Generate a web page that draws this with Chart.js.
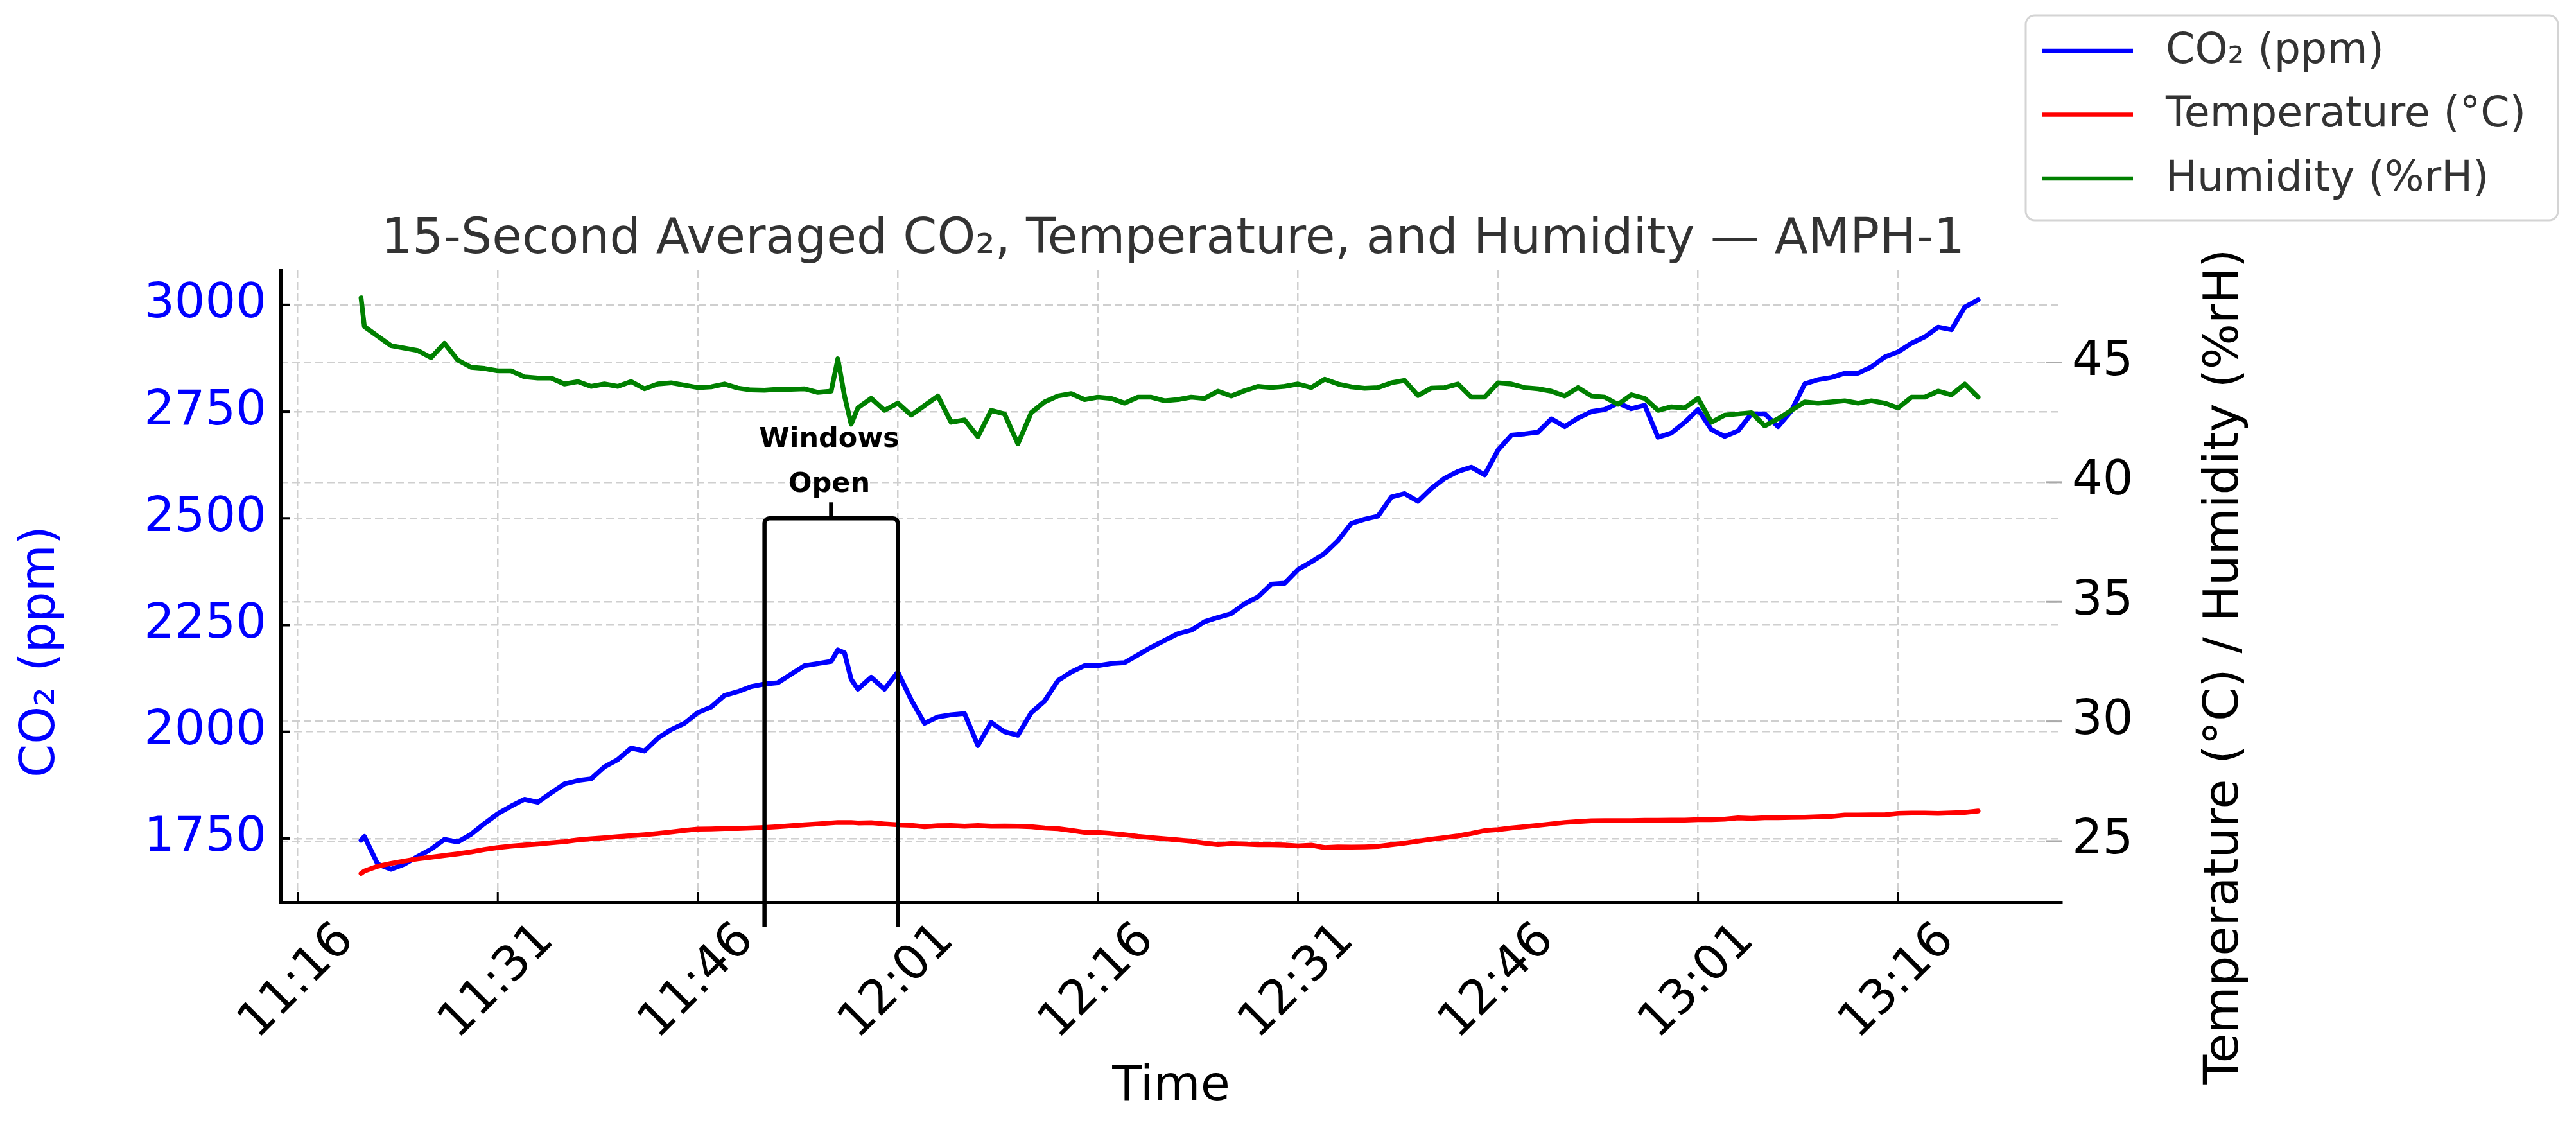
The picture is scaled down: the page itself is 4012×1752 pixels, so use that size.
<!DOCTYPE html>
<html>
<head>
<meta charset="utf-8">
<script src="https://cdn.jsdelivr.net/npm/chart.js@4.4.1/dist/chart.umd.min.js"></script>
<style>
  html, body { margin: 0; padding: 0; background: #fff; }
  canvas { display: block; }
</style>
</head>
<body>
<canvas id="chart" width="4012" height="1752"></canvas>
<script>
// ---------------------------------------------------------------
// 15-second averaged CO2 / temperature / humidity for AMPH-1.
// Values, roughly one per minute
// (with a couple of extra points around the window spike).
// ---------------------------------------------------------------

const FONT = "'DejaVu Sans', sans-serif";

const times = [
  '11:20:45',
  '11:21', '11:22', '11:23', '11:24', '11:25', '11:26', '11:27', '11:28', '11:29', '11:30',
  '11:31', '11:32', '11:33', '11:34', '11:35', '11:36', '11:37', '11:38', '11:39', '11:40',
  '11:41', '11:42', '11:43', '11:44', '11:45', '11:46', '11:47', '11:48', '11:49', '11:50',
  '11:51', '11:52', '11:53', '11:54', '11:55', '11:56', '11:56:30', '11:57', '11:57:30',
  '11:58', '11:59', '12:00',
  '12:01', '12:02', '12:03', '12:04', '12:05', '12:06', '12:07', '12:08', '12:09', '12:10',
  '12:11', '12:12', '12:13', '12:14', '12:15', '12:16', '12:17', '12:18', '12:19', '12:20',
  '12:21', '12:22', '12:23', '12:24', '12:25', '12:26', '12:27', '12:28', '12:29', '12:30',
  '12:31', '12:32', '12:33', '12:34', '12:35', '12:36', '12:37', '12:38', '12:39', '12:40',
  '12:41', '12:42', '12:43', '12:44', '12:45', '12:46', '12:47', '12:48', '12:49', '12:50',
  '12:51', '12:52', '12:53', '12:54', '12:55', '12:56', '12:57', '12:58', '12:59', '13:00',
  '13:01', '13:02', '13:03', '13:04', '13:05', '13:06', '13:07', '13:08', '13:09', '13:10',
  '13:11', '13:12', '13:13', '13:14', '13:15', '13:16', '13:17', '13:18', '13:19', '13:20',
  '13:21', '13:22'
];

const co2 = [
  1746,
  1755, 1690, 1678, 1690, 1708, 1725, 1748, 1742, 1760, 1785,
  1808, 1826, 1842, 1835, 1857, 1878, 1886, 1890, 1918, 1935,
  1962, 1955, 1985, 2005, 2020, 2045, 2058, 2085, 2094, 2106,
  2112, 2115, 2135, 2155, 2160, 2165, 2192, 2185, 2123,
  2100, 2128, 2100,
  2140, 2075, 2020, 2035, 2040, 2043, 1968, 2022, 2000, 1992,
  2045, 2072, 2120, 2140, 2155, 2155, 2160, 2162, 2180, 2198,
  2214, 2230, 2238, 2258, 2268, 2277, 2300, 2316, 2346, 2348,
  2380, 2398, 2418, 2448, 2488, 2498, 2505, 2550, 2558, 2540,
  2570, 2594, 2610, 2620, 2602, 2660, 2695, 2698, 2702, 2733,
  2715, 2735, 2750, 2755, 2770, 2757, 2765, 2690, 2700, 2725,
  2755, 2708, 2692, 2705, 2745, 2745, 2715, 2752, 2815, 2825,
  2830, 2840, 2840, 2855, 2878, 2890, 2910, 2925, 2948, 2942,
  2995, 3012
];

const temperature = [
  23.65,
  23.75, 23.95, 24.07, 24.17, 24.26, 24.33, 24.40, 24.47, 24.55, 24.65,
  24.73, 24.79, 24.84, 24.88, 24.93, 24.98, 25.05, 25.10, 25.14, 25.19,
  25.23, 25.27, 25.32, 25.38, 25.45, 25.50, 25.51, 25.53, 25.53, 25.55,
  25.57, 25.60, 25.64, 25.68, 25.72, 25.76, 25.78, 25.78, 25.78,
  25.76, 25.77, 25.72,
  25.68, 25.66, 25.60, 25.64, 25.65, 25.62, 25.65, 25.62, 25.63, 25.62,
  25.60, 25.55, 25.52, 25.45, 25.37, 25.36, 25.32, 25.27, 25.20, 25.15,
  25.10, 25.05, 25.00, 24.92, 24.86, 24.90, 24.88, 24.85, 24.85, 24.84,
  24.80, 24.83, 24.73, 24.76, 24.75, 24.76, 24.78, 24.85, 24.92, 25.00,
  25.08, 25.15, 25.22, 25.32, 25.44, 25.48, 25.55, 25.60, 25.66, 25.72,
  25.78, 25.82, 25.85, 25.86, 25.86, 25.86, 25.87, 25.87, 25.88, 25.88,
  25.90, 25.90, 25.92, 25.97, 25.95, 25.98, 25.98, 25.99, 26.00, 26.02,
  26.04, 26.09, 26.09, 26.10, 26.10, 26.16, 26.17, 26.17, 26.16, 26.18,
  26.20, 26.26
];

const humidity = [
  47.70,
  46.50, 46.10, 45.70, 45.60, 45.50, 45.20, 45.80, 45.10, 44.80, 44.75,
  44.65, 44.65, 44.40, 44.35, 44.35, 44.10, 44.20, 44.00, 44.10, 44.00,
  44.20, 43.90, 44.10, 44.15, 44.05, 43.95, 43.98, 44.10, 43.93, 43.85,
  43.84, 43.88, 43.88, 43.90, 43.75, 43.80, 45.15, 43.60, 42.42,
  43.10, 43.50, 43.00,
  43.30, 42.80, 43.20, 43.60, 42.50, 42.60, 41.90, 43.00, 42.85, 41.60,
  42.90, 43.35, 43.60, 43.70, 43.45, 43.55, 43.50, 43.30, 43.55, 43.55,
  43.40, 43.45, 43.55, 43.50, 43.80, 43.60, 43.82, 44.00, 43.95, 44.00,
  44.10, 43.95, 44.30, 44.10, 43.98, 43.92, 43.95, 44.15, 44.25, 43.62,
  43.93, 43.95, 44.10, 43.55, 43.55, 44.15, 44.10, 43.95, 43.90, 43.80,
  43.60, 43.95, 43.60, 43.55, 43.25, 43.65, 43.50, 43.00, 43.15, 43.10,
  43.50, 42.50, 42.80, 42.85, 42.90, 42.35, 42.65, 43.00, 43.35, 43.30,
  43.35, 43.40, 43.30, 43.40, 43.30, 43.10, 43.55, 43.55, 43.80, 43.65,
  44.10, 43.55
];

const xTickLabels = ['11:16', '11:31', '11:46', '12:01', '12:16', '12:31', '12:46', '13:01', '13:16'];
const co2Ticks = [1750, 2000, 2250, 2500, 2750, 3000];
const rightTicks = [25, 30, 35, 40, 45];

const windowOpen = ['11:51', '12:01'];   // bracket span
const bracketLevel = 2500;               // ppm, top of the bracket

const seriesNames = ['CO\u2082 (ppm)', 'Temperature (\u00B0C)', 'Humidity (%rH)'];
const seriesColors = ['#0000ff', '#ff0000', '#008000'];
const titleText = '15-Second Averaged CO\u2082, Temperature, and Humidity \u2014 AMPH-1';

// ---- helpers ----
function toMin(s) {
  const [h, m, sec] = s.split(':').map(Number);
  return h * 60 + m + (sec || 0) / 60;
}
const points = vals => times.map((t, i) => ({ x: toMin(t), y: vals[i] }));
const fixedTicks = vals => scale => { scale.ticks = vals.map(v => ({ value: v })); };

// ---- extra drawing: inward ticks, title, axis titles, legend, bracket ----
const decor = {
  id: 'decor',
  afterDraw(chart) {
    const { ctx, chartArea: a, scales: { x, y, y1 } } = chart;
    const seg = (x1, y1_, x2, y2) => { ctx.beginPath(); ctx.moveTo(x1, y1_); ctx.lineTo(x2, y2); ctx.stroke(); };
    ctx.save();

    ctx.strokeStyle = '#000';
    ctx.lineWidth = 3;
    x.ticks.forEach(t => { const p = x.getPixelForValue(t.value); seg(p, a.bottom, p, a.bottom - 16); });
    ctx.lineWidth = 4;
    y.ticks.forEach(t => { const p = y.getPixelForValue(t.value); seg(a.left, p, a.left + 14, p); });
    ctx.strokeStyle = '#aaaaaa';
    ctx.lineWidth = 3;
    y1.ticks.forEach(t => { const p = y1.getPixelForValue(t.value); seg(a.right - 25, p, a.right, p); });

    // title
    ctx.fillStyle = '#333';
    ctx.font = `76px ${FONT}`;
    ctx.textAlign = 'center';
    ctx.textBaseline = 'alphabetic';
    ctx.fillText(titleText, (a.left + a.right) / 2 + 3, a.top - 27);

    // x title
    ctx.fillStyle = '#000';
    ctx.font = `75px ${FONT}`;
    ctx.fillText('Time', (a.left + a.right) / 2, a.bottom + 308);

    // y titles
    ctx.textBaseline = 'middle';
    ctx.save();
    ctx.translate(a.left - 372, 1015);
    ctx.rotate(-Math.PI / 2);
    ctx.fillStyle = '#0000ff';
    ctx.fillText(seriesNames[0], 0, 0);
    ctx.restore();
    ctx.save();
    ctx.translate(a.right + 255, 1038);
    ctx.rotate(-Math.PI / 2);
    ctx.fillStyle = '#000';
    ctx.fillText('Temperature (\u00B0C) / Humidity (%rH)', 0, 0);
    ctx.restore();

    // legend
    ctx.beginPath();
    ctx.roundRect(3155, 24, 829, 319, 14);
    ctx.fillStyle = 'rgba(255,255,255,0.85)';
    ctx.fill();
    ctx.strokeStyle = '#d4d4d4';
    ctx.lineWidth = 3;
    ctx.stroke();
    ctx.font = `65px ${FONT}`;
    ctx.textAlign = 'left';
    seriesNames.forEach((name, i) => {
      const ly = 79 + i * 99.5;
      ctx.strokeStyle = seriesColors[i];
      ctx.lineWidth = 6.5;
      seg(3180, ly, 3322, ly);
      ctx.fillStyle = '#333';
      ctx.fillText(name, 3373, ly + 2);
    });

    // "Windows Open" bracket
    const xl = x.getPixelForValue(toMin(windowOpen[0]));
    const xr = x.getPixelForValue(toMin(windowOpen[1]));
    const yt = y.getPixelForValue(bracketLevel);
    const yb = a.bottom + 38;
    const xm = (xl + xr) / 2;
    ctx.strokeStyle = '#000';
    ctx.lineWidth = 6.5;
    ctx.lineJoin = 'round';
    ctx.beginPath();
    ctx.moveTo(xl, yb);
    ctx.arcTo(xl, yt, xr, yt, 8);
    ctx.arcTo(xr, yt, xr, yb, 8);
    ctx.lineTo(xr, yb);
    ctx.stroke();
    seg(xm, yt, xm, yt - 25);
    ctx.fillStyle = '#000';
    ctx.font = `bold 43px ${FONT}`;
    ctx.textAlign = 'center';
    ctx.fillText('Windows', xm - 3, yt - 122);
    ctx.fillText('Open', xm - 3, yt - 52);

    ctx.restore();
  }
};

const gridStyle = { color: '#cfcfcf', lineWidth: 2.5, drawTicks: false };
const lineStyle = { borderWidth: 7.5, pointRadius: 0, tension: 0, borderJoinStyle: 'round', borderCapStyle: 'round' };

new Chart(document.getElementById('chart'), {
  type: 'line',
  data: {
    datasets: [
      { label: seriesNames[2], data: points(humidity), yAxisID: 'y1', order: 0,
        borderColor: seriesColors[2], ...lineStyle },
      { label: seriesNames[1], data: points(temperature), yAxisID: 'y1', order: 1,
        borderColor: seriesColors[1], ...lineStyle },
      { label: seriesNames[0], data: points(co2), yAxisID: 'y', order: 2,
        borderColor: seriesColors[0], ...lineStyle }
    ]
  },
  options: {
    responsive: false,
    devicePixelRatio: 1,
    animation: false,
    events: [],
    layout: { padding: { top: 421, left: 0, right: 0, bottom: 0 } },
    plugins: { legend: { display: false }, title: { display: false }, tooltip: { enabled: false } },
    scales: {
      x: {
        type: 'linear',
        min: toMin('11:14:43'),
        max: toMin('13:28:16'),
        afterBuildTicks: fixedTicks(xTickLabels.map(toMin)),
        afterFit: s => { s.height = 347; },
        ticks: {
          autoSkip: false, minRotation: 45, maxRotation: 45,
          padding: 16, labelOffset: 76, color: '#000',
          font: { family: FONT, size: 75 },
          callback: (v, i) => xTickLabels[i]
        },
        grid: gridStyle,
        border: { display: true, color: '#000', width: 5, dash: [12, 6] }
      },
      y: {
        position: 'left',
        min: 1601,
        max: 3081,
        afterBuildTicks: fixedTicks(co2Ticks),
        afterFit: s => { s.width = 437; },
        ticks: {
          padding: 22, color: '#0000ff', font: { family: FONT, size: 75 },
          callback: v => String(v)
        },
        grid: gridStyle,
        border: { display: true, color: '#000', width: 5, dash: [12, 6] }
      },
      y1: {
        position: 'right',
        min: 22.45,
        max: 48.85,
        afterBuildTicks: fixedTicks(rightTicks),
        afterFit: s => { s.width = 801; },
        ticks: {
          padding: 16, color: '#000', font: { family: FONT, size: 75 },
          callback: v => String(v)
        },
        grid: gridStyle,
        border: { display: false, dash: [12, 6] }
      }
    }
  },
  plugins: [decor]
});
</script>
</body>
</html>
